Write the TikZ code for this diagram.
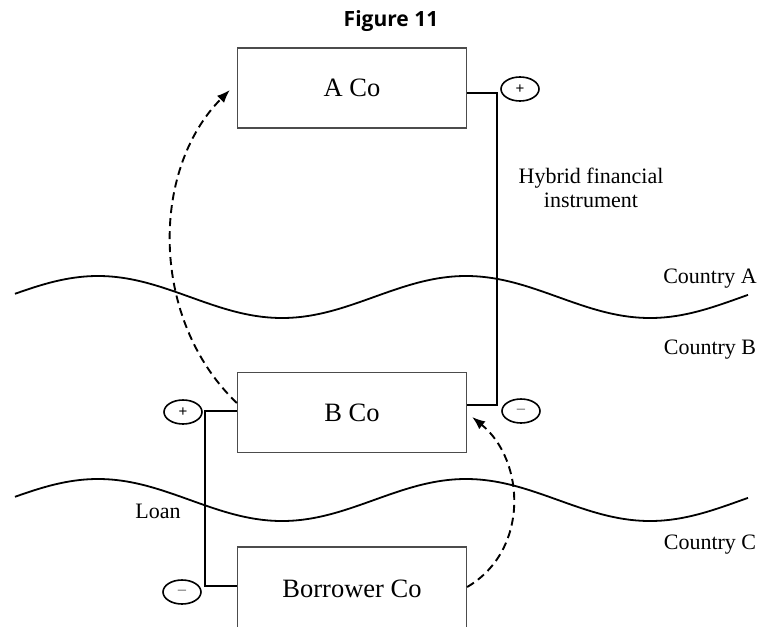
\documentclass[tikz,border=0pt]{standalone}
\usepackage{fontspec}
\setmainfont{Liberation Serif}
\newfontfamily\titlefont{Open Sans}
\newfontfamily\signfont{Liberation Sans}
\usetikzlibrary{shapes.geometric,arrows.meta,calc}

\begin{document}
\begin{tikzpicture}[x=1pt,y=-1pt,
  company/.style={draw=black!70, line width=1.3pt, minimum width=229pt,
    minimum height=80pt, inner sep=0pt, font=\fontsize{26.5}{30}\selectfont},
  sign/.style={draw, ellipse, line width=1.6pt, minimum width=38pt,
    minimum height=24pt, inner sep=0pt, font=\signfont\fontsize{15}{15}\selectfont},
  wire/.style={line width=2.3pt, line join=miter},
  flow/.style={line width=1.9pt, dash pattern=on 8pt off 5pt,
    -{Latex[length=13pt,width=10pt]}},
  lbl/.style={inner sep=0pt, font=\fontsize{22}{24}\selectfont},
  border/.style={line width=1.8pt}
]
\useasboundingbox (0,0) rectangle (759,626);
\clip (0,0) rectangle (759,626);

% title
\node[inner sep=0pt, anchor=base, font=\titlefont\bfseries\fontsize{21}{22}\selectfont]
  (title) at (391,27) {Figure 11};

% country borders
\draw[border] plot[domain=15:748, samples=160, smooth]
  (\x, {297 - 21*sin(((\x-6)/368)*360)});
\draw[border] plot[domain=15:748, samples=160, smooth]
  (\x, {500 - 21*sin(((\x-6)/368)*360)});

% companies
\node[company] (A) at (352,88) {A Co};
\node[company] (B) at (352,412.5) {B Co};
\node[company, minimum height=84pt] (Borrower) at (352,589) {Borrower Co};

% positive / negative ends
\node[sign] (Aplus) at (520,89) {+};
\node[sign] (Bminus) at (521,411) {\textcolor{black!55}{–}};
\node[sign] (Bplus) at (183,412) {+};
\node[sign] (Cminus) at (182,592) {\textcolor{black!55}{–}};

% instruments
\draw[wire] (A.east |- 0,93) -| (497,405) -- (B.east |- 0,405);
\draw[wire] (B.west |- 0,411) -| (205,586) -- (Borrower.west |- 0,586);

% payment flows
\coordinate (Aend) at ($(A.west)+(-7,2)$);
\coordinate (Bend) at ($(B.east)+(5,4.5)$);
\draw[flow] (B.west |- 0,403) .. controls (150,320) and (150,170) .. (Aend);
\draw[flow] (Borrower.east |- 0,587) .. controls (530,550) and (525,460) .. (Bend);

% labels
\node[lbl, anchor=base] (cA) at (710,283) {Country A};
\node[lbl, anchor=base] (cB) at (710,354) {Country B};
\node[lbl, anchor=base] (cC) at (710,549) {Country C};
\node[lbl, anchor=base] (loan) at (158,518) {Loan};
\node[lbl, align=center] (hybrid) at (591,187.5) {Hybrid financial\\instrument};
\end{tikzpicture}
\end{document}
